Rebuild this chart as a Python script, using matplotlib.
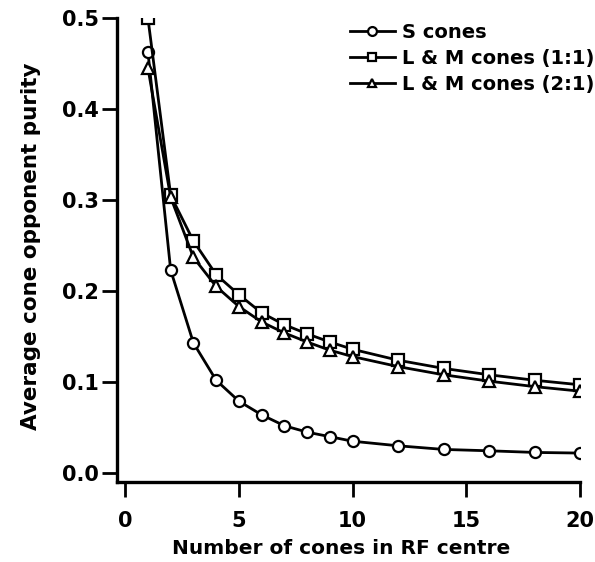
import matplotlib
matplotlib.use("Agg")
import matplotlib.pyplot as plt

n_cones = [1, 2, 3, 4, 5, 6, 7, 8, 9, 10, 12, 14, 16, 18, 20]
s_cones = [0.463, 0.223, 0.143, 0.102, 0.079, 0.064, 0.052, 0.045, 0.040, 0.035, 0.030, 0.026, 0.0245, 0.0227, 0.022]
lm_11 = [0.500, 0.305, 0.255, 0.218, 0.196, 0.176, 0.163, 0.153, 0.144, 0.136, 0.124, 0.115, 0.108, 0.102, 0.097]
lm_21 = [0.445, 0.303, 0.237, 0.205, 0.183, 0.166, 0.154, 0.144, 0.135, 0.128, 0.117, 0.108, 0.101, 0.095, 0.090]
labels = ["S cones", "L & M cones (1:1)", "L & M cones (2:1)"]
xticks = [0, 5, 10, 15, 20]
yticks = [0.0, 0.1, 0.2, 0.3, 0.4, 0.5]

fig = plt.figure(figsize=(5.95, 5.62), dpi=100)
ax = fig.add_axes([0.197, 0.142, 0.778, 0.826])

common = dict(color="black", lw=2.0, mfc="white", mec="black", mew=1.6, ms=8)
ax.plot(n_cones, s_cones, marker="o", label=labels[0], **common)
ax.plot(n_cones, lm_11, marker="s", label=labels[1], **common)
ax.plot(n_cones, lm_21, marker="^", label=labels[2], **common)

ax.set_xlim(-0.35, 20)
ax.set_ylim(-0.01, 0.5)
ax.set_xticks(xticks)
ax.set_yticks(yticks)
ax.set_xticklabels([str(v) for v in xticks])
ax.set_yticklabels([f"{v:.1f}" for v in yticks])
for s in ["top", "right"]:
    ax.spines[s].set_visible(False)
for s in ["left", "bottom"]:
    ax.spines[s].set_linewidth(2.4)
ax.tick_params(axis="both", direction="out", length=11, width=2.0, labelsize=15)
ax.tick_params(axis="y", pad=2)
ax.tick_params(axis="x", pad=10)
for t in ax.get_xticklabels() + ax.get_yticklabels():
    t.set_fontweight("bold")

ax.set_xlabel("Number of cones in RF centre", fontsize=14.5, fontweight="bold")
ax.xaxis.set_label_coords(0.5, 1 - 549 / 562, transform=fig.transFigure)
ax.xaxis.label.set_va("center")
ax.xaxis.label.set_x(341 / 595)
ax.set_ylabel("Average cone opponent purity", fontsize=15.5, fontweight="bold")
ax.yaxis.set_label_coords(31 / 595, 1 - 246 / 562, transform=fig.transFigure)
ax.yaxis.label.set_va("center")

leg = ax.legend(loc="upper left", bbox_to_anchor=(350 / 595, 1 - 23 / 562),
                bbox_transform=fig.transFigure, frameon=False,
                prop={"size": 14, "weight": "bold"}, handlelength=2.3,
                handletextpad=0.36, labelspacing=0.36, borderpad=0,
                borderaxespad=0, markerscale=0.8)

fig.savefig("out.png", dpi=100)
